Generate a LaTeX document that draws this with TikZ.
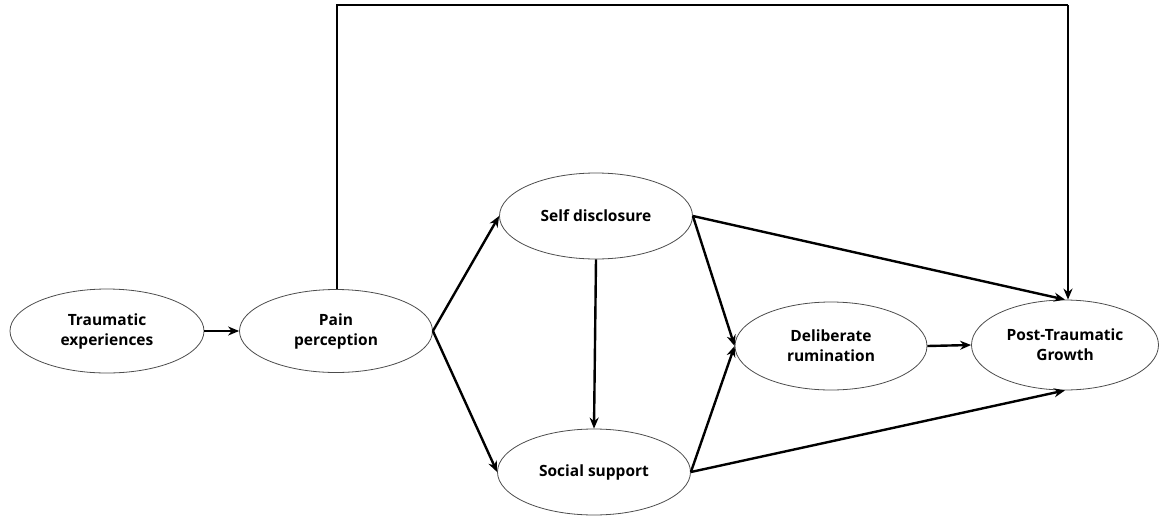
\documentclass[tikz,border=0pt]{standalone}
\usepackage{fontspec}
\setmainfont{Open Sans}
\usetikzlibrary{shapes.geometric,arrows.meta}
\begin{document}
\begin{tikzpicture}[x=1pt,y=-1pt,
  ell/.style={ellipse, draw=black!70, line width=0.8pt, inner sep=0pt, align=center,
    font=\bfseries\fontsize{15.5}{20}\selectfont},
  conn/.style={line width=2.4pt, -{Stealth[length=11pt,width=9pt]}}]
\useasboundingbox (0,0) rectangle (1160,517);
\node[ell, minimum width=194pt, minimum height=84pt] (trauma) at (107,331) {Traumatic\\experiences};
\node[ell, minimum width=193pt, minimum height=83pt] (pain) at (336,331) {Pain\\perception};
\node[ell, minimum width=193pt, minimum height=86pt] (self) at (596,216) {Self disclosure};
\node[ell, minimum width=193pt, minimum height=86pt] (social) at (594,472) {Social support};
\node[ell, minimum width=192pt, minimum height=88pt] (delib) at (831,346) {Deliberate\\rumination};
\node[ell, minimum width=187pt, minimum height=90pt] (ptg) at (1065,345) {Post-Traumatic\\Growth};
\coordinate (tl) at (337,5);
\coordinate (tr) at (1068,5);
\draw[conn] (trauma.east) -- (pain.west);
\draw[conn] (pain.east) -- (self.west);
\draw[conn] (pain.east) -- (social.west);
\draw[conn] (self.south) -- (social.north);
\draw[conn] (self.east) -- (delib.west);
\draw[conn] (social.east) -- (delib.west);
\draw[conn] (self.east) -- (ptg.north);
\draw[conn] (social.east) -- (ptg.south);
\draw[conn] (delib.east) -- (ptg.west);
\draw[line width=2.4pt] (pain.north -| tl) -- (tl) -- (tr);
\draw[conn] (tr) -- (tr |- ptg.north);
\end{tikzpicture}
\end{document}
